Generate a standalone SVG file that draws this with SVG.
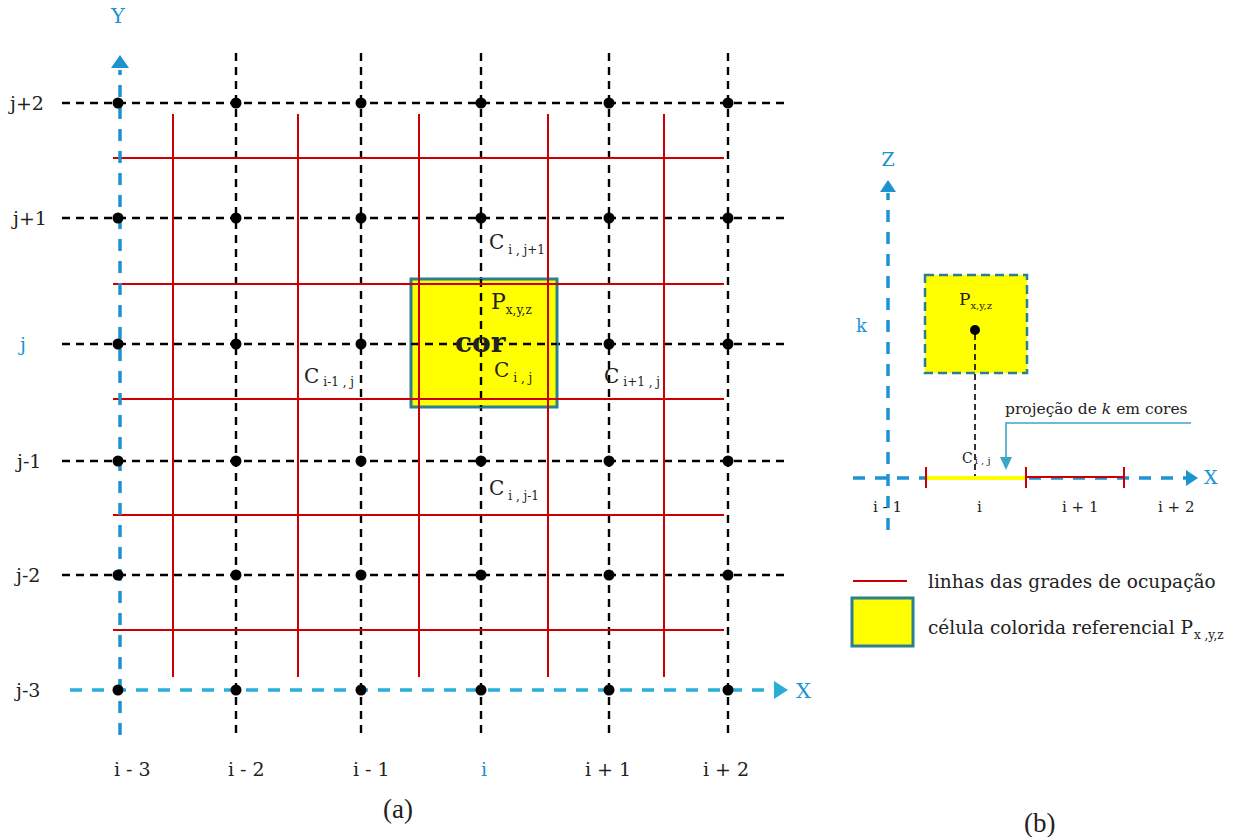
<svg xmlns="http://www.w3.org/2000/svg" width="1246" height="837" viewBox="0 0 1246 837">
<defs>
<style>
text{font-family:"DejaVu Serif","Liberation Serif",serif;fill:#222}
.lbl{font-size:19px}
.blue{fill:#1d93cf}
.bd{stroke:#000;stroke-width:2.4;stroke-dasharray:8 6;fill:none}
.red{stroke:#cc0000;stroke-width:2;fill:none}
.ax{stroke:#1d93cf;stroke-width:3.5;stroke-dasharray:12 10;fill:none}
.axx{stroke:#29afd6;stroke-width:3.5;stroke-dasharray:12 10;fill:none}
.sub{font-size:12px}
.times{font-family:"Liberation Serif","Times New Roman",serif}
</style>
</defs>
<rect width="1246" height="837" fill="#fff"/>

<g id="panel-a">
<g id="black-grid">
<path class="bd" d="M236,53V735M361,53V735M481,53V735M609,53V735M728,53V735"/>
<path class="bd" d="M62,103H788M62,218H788M62,344H788M62,461H788M62,575H788"/>
</g>
<g id="cell-cor">
<rect x="411" y="279" width="146" height="128" fill="#ffff00" stroke="#2b7f90" stroke-width="3"/>
<path class="bd" d="M481,279V407M411,344H557"/>
</g>
<g id="red-grid">
<path class="red" d="M113,158H724M113,284H724M113,399H724M113,515H724M113,630H724"/>
<path class="red" d="M173,114V677M298,114V677M419,114V677M548,114V677M664,114V677"/>
</g>
<g id="axes-a">
<line class="ax" x1="120" y1="735" x2="120" y2="70"/>
<path d="M111,68L120,55L129,68z" fill="#1d93cf"/>
<line class="axx" x1="70" y1="690" x2="775" y2="690"/>
<path d="M774,681L788,690L774,699z" fill="#29afd6"/>
<text x="118" y="23" text-anchor="middle" font-size="21" class="blue">Y</text>
<text x="796" y="698" font-size="21" class="blue">X</text>
</g>
<g id="dots" fill="#000">
<circle cx="118" cy="103" r="5.5"/><circle cx="236" cy="103" r="5.5"/><circle cx="361" cy="103" r="5.5"/><circle cx="481" cy="103" r="5.5"/><circle cx="609" cy="103" r="5.5"/><circle cx="728" cy="103" r="5.5"/>
<circle cx="118" cy="218" r="5.5"/><circle cx="236" cy="218" r="5.5"/><circle cx="361" cy="218" r="5.5"/><circle cx="481" cy="218" r="5.5"/><circle cx="609" cy="218" r="5.5"/><circle cx="728" cy="218" r="5.5"/>
<circle cx="118" cy="344" r="5.5"/><circle cx="236" cy="344" r="5.5"/><circle cx="361" cy="344" r="5.5"/><circle cx="609" cy="344" r="5.5"/><circle cx="728" cy="344" r="5.5"/>
<circle cx="118" cy="461" r="5.5"/><circle cx="236" cy="461" r="5.5"/><circle cx="361" cy="461" r="5.5"/><circle cx="481" cy="461" r="5.5"/><circle cx="609" cy="461" r="5.5"/><circle cx="728" cy="461" r="5.5"/>
<circle cx="118" cy="575" r="5.5"/><circle cx="236" cy="575" r="5.5"/><circle cx="361" cy="575" r="5.5"/><circle cx="481" cy="575" r="5.5"/><circle cx="609" cy="575" r="5.5"/><circle cx="728" cy="575" r="5.5"/>
<circle cx="118" cy="690" r="5.5"/><circle cx="236" cy="690" r="5.5"/><circle cx="361" cy="690" r="5.5"/><circle cx="481" cy="690" r="5.5"/><circle cx="609" cy="690" r="5.5"/><circle cx="728" cy="690" r="5.5"/>
</g>
<g id="row-labels" class="lbl">
<text x="10" y="110">j+2</text>
<text x="13" y="225">j+1</text>
<text x="20" y="351" class="blue">j</text>
<text x="17" y="468">j-1</text>
<text x="16" y="582">j-2</text>
<text x="16" y="697">j-3</text>
</g>
<g id="col-labels" class="lbl">
<text x="114" y="776">i - 3</text>
<text x="228" y="776">i - 2</text>
<text x="353" y="776">i - 1</text>
<text x="481" y="776" class="blue">i</text>
<text x="585" y="776">i + 1</text>
<text x="703" y="776">i + 2</text>
</g>
<g id="cell-labels" font-size="20">
<text x="489" y="249">C<tspan class="sub" dx="4" dy="5">i , j+1</tspan></text>
<text x="491" y="309" font-size="22">P<tspan class="sub" dy="5">x,y,z</tspan></text>
<text x="455" y="352" font-size="28" font-weight="bold" fill="#000">cor</text>
<text x="494" y="377">C<tspan class="sub" dx="4" dy="5">i , j</tspan></text>
<text x="304" y="383">C<tspan class="sub" dx="4" dy="3">i-1 , j</tspan></text>
<text x="604" y="383">C<tspan class="sub" dx="4" dy="3">i+1 , j</tspan></text>
<text x="489" y="495">C<tspan class="sub" dx="4" dy="5">i , j-1</tspan></text>
</g>
<text x="383" y="818" font-size="27" class="times">(a)</text>
</g>

<g id="panel-b">
<g id="axes-b">
<line class="ax" x1="888" y1="530" x2="888" y2="193"/>
<path d="M880,192L888,180L896,192z" fill="#1d93cf"/>
<line class="ax" x1="853" y1="478" x2="1188" y2="478"/>
<path d="M1186,470L1198,478L1186,486z" fill="#1d93cf"/>
<text x="888" y="166" text-anchor="middle" font-size="19" class="blue">Z</text>
<text x="1204" y="484" font-size="19" class="blue">X</text>
<text x="856" y="332" font-size="18" class="blue">k</text>
</g>
<g id="cell-b">
<rect x="925" y="275" width="102" height="98" fill="#ffff00" stroke="#2b7f90" stroke-width="2.5" stroke-dasharray="9 5"/>
<circle cx="975" cy="330" r="5" fill="#000"/>
<line x1="975" y1="334" x2="975" y2="476" stroke="#000" stroke-width="1.6" stroke-dasharray="6 4"/>
<text x="959" y="305" font-size="17">P<tspan font-size="10" dy="4">x,y,z</tspan></text>
</g>
<g id="segment-b">
<line x1="926" y1="478" x2="1026" y2="478" stroke="#ffff00" stroke-width="4"/>
<line x1="1026" y1="477" x2="1124" y2="477" class="red"/>
<path class="red" d="M926,467V488M1026,467V488M1124,467V488"/>
<text x="962" y="463" font-size="14">C<tspan font-size="10" dx="2" dy="1">i , j</tspan></text>
</g>
<g id="proj-label">
<path d="M1191,423H1006V458" fill="none" stroke="#3aa6c8" stroke-width="1.6"/>
<path d="M1000,457L1006,470L1012,457z" fill="#3aa6c8"/>
<text x="1005" y="414" font-size="15.5" fill="#29a3c8">projeção de <tspan font-style="italic">k</tspan> em cores</text>
</g>
<g id="labels-b" font-size="15">
<text x="873" y="512">i - 1</text>
<text x="977" y="512" fill="#29a3c8">i</text>
<text x="1062" y="512">i + 1</text>
<text x="1158" y="512">i + 2</text>
</g>
<text x="1024" y="832" font-size="27" class="times">(b)</text>
</g>

<g id="legend">
<line x1="853" y1="581" x2="907" y2="581" class="red"/>
<text x="928" y="588" font-size="18.5">linhas das grades de ocupação</text>
<rect x="852" y="598" width="61" height="48" fill="#ffff00" stroke="#2b7f90" stroke-width="3"/>
<text x="928" y="634" font-size="18.5">célula colorida referencial P<tspan font-size="12" dx="1" dy="5">x ,y,z</tspan></text>
</g>
</svg>
